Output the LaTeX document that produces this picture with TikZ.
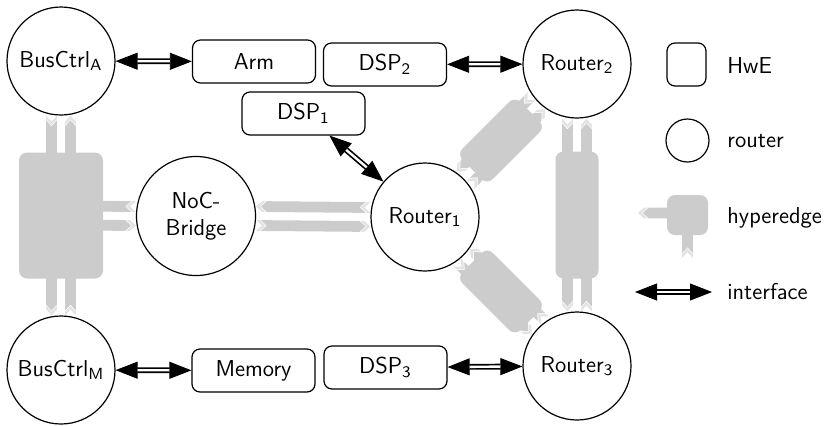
\documentclass[tikz,border=0pt]{standalone}
\usepackage{fontspec}
\usetikzlibrary{calc,arrows.meta}

\definecolor{hgray}{gray}{0.8}
\definecolor{hchev}{gray}{0.89}

\pgfdeclarelayer{links}
\pgfdeclarelayer{hyper}
\pgfsetlayers{links,hyper,main}

% One hyperedge lane from #1 to #2, moved #3 to the right of its direction:
% a light chevron at each end, a bar with a notched tail and a pointed head.
\newcommand\hypbar[3]{%
  \path ($(#1)!#3!-90:(#2)$) coordinate (hs)
        ($(#2)!#3!90:(#1)$) coordinate (ht);
  \fill[hchev] ($(hs)!0pt!(ht)!2.7pt!90:(ht)$) -- ($(hs)!3pt!(ht)$)
     -- ($(hs)!0pt!(ht)!2.7pt!-90:(ht)$) -- ($(hs)!1.8pt!(ht)!2.7pt!-90:(ht)$)
     -- ($(hs)!4.8pt!(ht)$) -- ($(hs)!1.8pt!(ht)!2.7pt!90:(ht)$) -- cycle;
  \fill[hgray] ($(hs)!2.4pt!(ht)!2.7pt!90:(ht)$) -- ($(hs)!5.4pt!(ht)$)
     -- ($(hs)!2.4pt!(ht)!2.7pt!-90:(ht)$) -- ($(ht)!5.4pt!(hs)!2.7pt!90:(hs)$)
     -- ($(ht)!2.4pt!(hs)$) -- ($(ht)!5.4pt!(hs)!2.7pt!-90:(hs)$) -- cycle;
  \fill[hchev] ($(ht)!3pt!(hs)!2.7pt!90:(hs)$) -- (ht)
     -- ($(ht)!3pt!(hs)!2.7pt!-90:(hs)$) -- ($(ht)!4.8pt!(hs)!2.7pt!-90:(hs)$)
     -- ($(ht)!1.8pt!(hs)$) -- ($(ht)!4.8pt!(hs)!2.7pt!90:(hs)$) -- cycle;
}
% Two opposite lanes between #1 and #2
\newcommand\hyplink[2]{\hypbar{#1}{#2}{4.75pt}\hypbar{#2}{#1}{4.75pt}}

\begin{document}
\begin{tikzpicture}[x=0.5pt, y=-0.5pt,
  font=\sffamily\fontsize{11.5pt}{13.5pt}\selectfont,
  router/.style={circle, draw, fill=white, line width=0.6pt, inner sep=0pt, minimum size=54pt},
  hwe/.style={rectangle, draw, fill=white, rounded corners=4pt, line width=0.6pt,
    inner sep=0pt, minimum width=61.5pt, minimum height=21.5pt},
  hedge/.style={rectangle, fill=hgray, rounded corners=4pt, inner sep=0pt},
  iface/.style={line width=2.9pt,
    {Triangle[length=11pt,width=8.5pt,line width=0.4pt]}-{Triangle[length=11pt,width=8.5pt,line width=0.4pt]}},
  ifacegap/.style={white, line width=1.2pt, shorten <=11pt, shorten >=11pt},
  legtext/.style={anchor=base west, inner sep=0pt},
]
\useasboundingbox (0,0) rectangle (831,425);

% routers
\node[router] (bA) at (61,61) {BusCtrl\textsubscript{A}};
\node[router] (bM) at (61,370) {BusCtrl\textsubscript{M}};
\node[router, minimum size=59.5pt, align=center] (noc) at (196,216) {NoC-\\Bridge};
\node[router] (r1) at (425,217) {Router\textsubscript{1}};
\node[router] (r2) at (577,64) {Router\textsubscript{2}};
\node[router] (r3) at (577,366) {Router\textsubscript{3}};

% hardware elements
\node[hwe] (arm) at (254,61.5) {Arm};
\node[hwe] (dsp2) at (385,64.5) {DSP\textsubscript{2}};
\node[hwe] (dsp1) at (303.5,113.5) {DSP\textsubscript{1}};
\node[hwe] (mem) at (253.5,370.5) {Memory};
\node[hwe] (dsp3) at (385.5,367.5) {DSP\textsubscript{3}};

% interfaces
\foreach \a/\b in {bA/arm, dsp2/r2, dsp1/r1, bM/mem, dsp3/r3} {
  \draw[iface] (\a) -- (\b);
  \draw[ifacegap] (\a) -- (\b);
}

% hyperedges
\begin{pgfonlayer}{hyper}
  \node[hedge, minimum width=42pt, minimum height=63pt] (hL) at ($(bA)!0.5!(bM)$) {};
  \node[hedge, minimum width=21.5pt, minimum height=63.5pt] (hR) at ($(r2)!0.5!(r3)$) {};
  \node[hedge, minimum width=41pt, minimum height=21.5pt, rotate=45] (hD1) at ($(r1)!0.5!(r2)$) {};
  \node[hedge, minimum width=41pt, minimum height=21.5pt, rotate=-45] (hD2) at ($(r1)!0.5!(r3)$) {};
  \node[hedge, minimum width=20.5pt, minimum height=20pt] (lhe) at (687.5,215) {};
\end{pgfonlayer}

\begin{pgfonlayer}{links}
  \hyplink{hL.center}{bA.south}
  \hyplink{hL.center}{bM.north}
  \hyplink{hL.center}{noc.west}
  \hyplink{noc.east}{r1.west}
  \hyplink{hR.center}{r2.south}
  \hyplink{hR.center}{r3.north}
  \hyplink{hD1.center}{r1.45}
  \hyplink{hD1.center}{r2.-135}
  \hyplink{hD2.center}{r1.-45}
  \hyplink{hD2.center}{r3.135}
  \coordinate (lheL) at (638,213);
  \coordinate (lheB) at (687.5,258);
  \hypbar{lhe.center|-lheL}{lheL}{0pt}
  \hypbar{lheB}{lhe.center}{0pt}
\end{pgfonlayer}

% legend
\node[hwe, minimum width=19.5pt, minimum height=21.5pt] (lhwe) at (686.5,64.5) {};
\node[legtext] (thwe) at (727,73) {HwE};
\node[router, minimum size=21.5pt] (lrt) at (687.5,140.5) {};
\node[legtext] (trt) at (727,147) {router};
\node[legtext] (the) at (727,223) {hyperedge};
\coordinate (lifA) at (635,292);
\coordinate (lifB) at (712,292);
\draw[iface] (lifA) -- (lifB);
\draw[ifacegap] (lifA) -- (lifB);
\node[legtext] (tif) at (727,299) {interface};
\end{tikzpicture}
\end{document}
